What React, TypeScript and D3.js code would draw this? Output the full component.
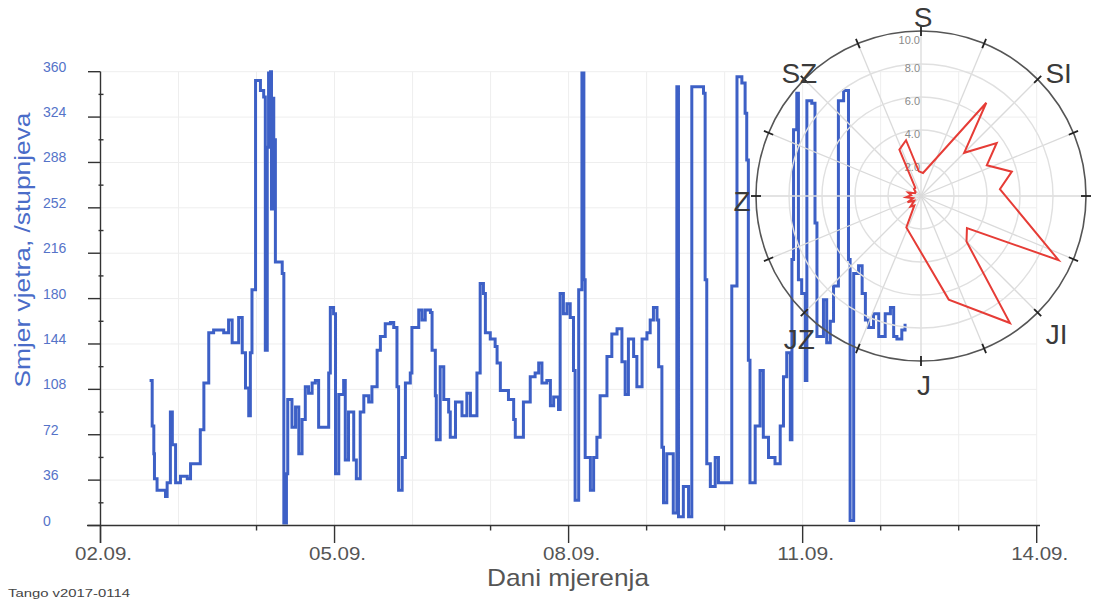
import React from "react";
import * as d3 from "d3";

// ---- data ----
// hours since 02.09. 00:00
const hours = [15.1,15.9,16.4,16.6,17.4,20.0,20.5,21.5,22.1,23.1,
24.6,26.7,27.7,29.7,30.7,31.8,33.3,34.8,37.9,39.4,
40.5,42.5,43.6,44.6,45.6,46.1,46.6,47.7,49.2,50.2,
50.7,51.3,51.7,52.3,52.6,52.9,53.3,53.8,55.9,56.4,
57.2,57.6,58.9,60.0,61.0,62.0,63.0,64.0,65.1,66.1,
67.1,69.2,70.2,70.7,71.7,72.3,73.3,74.8,75.3,76.3,
76.9,77.9,78.7,79.9,81.0,82.5,83.5,85.1,86.1,87.6,
89.2,90.2,91.2,91.7,92.8,93.8,95.3,95.8,97.9,98.9,
99.9,101.5,102.0,103.0,103.3,104.5,105.6,107.1,107.6,109.2,
111.2,112.7,113.8,114.8,115.8,116.8,117.8,118.4,119.9,121.4,
122.0,123.0,125.5,127.1,127.6,129.1,130.1,132.2,133.7,134.8,
135.8,137.3,138.4,139.4,140.9,141.4,142.4,143.5,144.5,145.5,
146.0,147.1,148.1,148.7,149.1,150.7,151.7,152.7,153.7,155.8,
157.3,158.9,160.4,161.4,162.4,164.0,165.0,166.6,168.1,169.1,
170.1,171.2,171.7,172.7,173.2,174.2,175.2,176.2,177.3,177.8,
179.3,180.9,181.9,184.5,185.5,186.0,186.5,187.6,189.1,190.1,
193.7,194.2,195.8,197.3,198.3,198.8,199.3,199.8,201.4,202.9,
203.9,205.5,207.5,209.1,210.1,211.1,212.2,212.7,213.2,214.2,
214.7,215.7,216.8,217.3,218.8,219.8,220.4,222.4,223.4,224.5,
225.5,227.0,228.6,229.6,230.1,230.6,231.7,233.2,234.3,235.3,
236.3,237.8,239.4,241.4,243.0,244.0,245.0,246.5,247.5];

// wind direction, degrees
const direction = [115,79,57,37,28,23,34,90,64,34,
39,37,49,49,76,113,153,155,153,163,
145,165,137,109,87,137,187,353,345,340,
139,300,359,360,251,339,306,209,200,2,
41,100,78,94,57,84,110,105,113,115,
78,78,121,173,168,41,104,115,52,90,
90,52,37,90,103,98,110,139,150,160,
161,157,110,28,54,113,121,157,171,163,
171,169,139,103,68,126,100,90,70,98,
87,105,87,87,121,192,184,153,148,142,
129,107,100,84,70,70,98,118,121,129,
113,115,95,102,92,184,168,176,165,123,
20,187,359,195,54,28,54,70,103,134,
152,156,130,104,148,134,110,148,153,163,
173,163,126,62,18,57,57,10,348,7,
31,7,348,348,343,195,49,31,54,34,
34,190,356,351,327,290,131,34,79,123,
70,54,49,79,118,137,68,211,314,343,
195,184,115,337,335,240,150,179,145,162,
190,337,345,345,211,4,200,206,184,163,
157,168,150,168,173,150,148,155,160];

const yTicks = [0, 36, 72, 108, 144, 180, 216, 252, 288, 324, 360];
const xMajorDays = [0, 3, 6, 9, 12];
const xMajorLabels = ["02.09.", "05.09.", "08.09.", "11.09.", "14.09."];
const xMinorDays = [2, 5, 7, 8, 10, 11];

// wind rose: direction (deg) and frequency (%)
const roseDir = [5, 35, 45, 55, 65, 75, 85, 115, 125, 135, 145, 165, 205, 215, 225, 235, 245, 255, 265, 275, 285, 295, 305, 315, 325, 335, 345, 355];
const roseFreq = [1.4, 6.9, 3.7, 5.6, 4.4, 5.7, 4.8, 9.2, 3.4, 3.9, 9.4, 6.5, 2.1, 0.7, 0.9, 0.5, 0.9, 0.5, 0.9, 0.6, 0.8, 0.4, 0.4, 0.6, 0.6, 3.1, 3.5, 1.5];
const roseRings = [2, 4, 6, 8, 10];
const roseRingLabels = ["2.0", "4.0", "6.0", "8.0", "10.0"];
const compassLabels = ["S", "SI", "JI", "J", "JZ", "Z", "SZ"];
const compassAngles = [0, 45, 135, 180, 225, 270, 315];

export default function App() {
  const W = 1093, H = 603;
  const x = d3.scaleLinear().domain([0, 288]).range([100.5, 1036.7]);
  const y = d3.scaleLinear().domain([0, 360]).range([525.5, 71.7]);
  const data = hours.map((h, i) => [h, direction[i]] as [number, number]);
  const line = d3.line<[number, number]>().x(d => x(d[0])).y(d => y(d[1])).curve(d3.curveStepAfter);

  const cx = 921, cy = 196, R = 165;
  const r = d3.scaleLinear().domain([0, 10]).range([0, R]);
  const rose = roseDir.map((a, i) => ({ a, f: roseFreq[i] }));
  const radial = d3.lineRadial<{ a: number; f: number }>()
    .angle(d => (d.a * Math.PI) / 180)
    .radius(d => r(d.f))
    .curve(d3.curveLinearClosed);
  const spokes = d3.range(0, 360, 22.5);
  const labelOffsets: Record<string, [number, number]> = {
    S: [2, -14], SI: [21, -6], JI: [19, 22], J: [3, 24], JZ: [-5, 27], Z: [-14, 5], SZ: [-5, -6],
  };
  const days = d3.range(1, 13);
  const blue = "#3d60c6";

  return (
    <svg width={W} height={H} style={{ position: "absolute", left: 0, top: 0, background: "#fff" }}
      fontFamily="'Liberation Sans', Arial, sans-serif">
      <rect x={0} y={0} width={W} height={H} fill="#fff" />
      {/* grid */}
      <g stroke="#eeeeee" strokeWidth={1}>
        {yTicks.slice(1).map(t => (
          <line key={"gy" + t} x1={x(0)} x2={x(288)} y1={y(t)} y2={y(t)} />
        ))}
        {days.map(d => (
          <line key={"gx" + d} x1={x(d * 24)} x2={x(d * 24)} y1={y(0)} y2={y(360)} />
        ))}
      </g>

      {/* series */}
      <path d={line(data) || ""} fill="none" stroke={blue} strokeWidth={3} strokeLinejoin="miter" />

      {/* axes */}
      <g stroke="#333" strokeWidth={1.4}>
        <line x1={x(0)} x2={x(0)} y1={y(360)} y2={543} />
        {yTicks.map(t => (
          <line key={"yt" + t} x1={88} x2={x(0)} y1={y(t)} y2={y(t)} />
        ))}
        {yTicks.slice(1).map(t => (
          <line key={"ym" + t} x1={x(0) - 2} x2={x(0) + 3} y1={y(t - 18)} y2={y(t - 18)} />
        ))}
        <line x1={87} x2={1040} y1={y(0)} y2={y(0)} />
        {xMajorDays.map(d => (
          <line key={"xt" + d} x1={x(d * 24)} x2={x(d * 24)} y1={y(0)} y2={543} />
        ))}
        {xMinorDays.map(d => (
          <line key={"xm" + d} x1={x(d * 24)} x2={x(d * 24)} y1={y(0)} y2={y(0) + 5} />
        ))}
      </g>
      {yTicks.map(t => (
        <text key={"yl" + t} x={43} y={y(t) - 5} fontSize={14} fill="#5573c8" dominantBaseline="central">
          {t}
        </text>
      ))}
      {xMajorDays.map((d, i) => (
        <text key={"xl" + d} x={x(d * 24) + 3} y={560} fontSize={19} fill="#555" textAnchor="middle"
          textLength={57} lengthAdjust="spacingAndGlyphs">
          {xMajorLabels[i]}
        </text>
      ))}
      <text x={568} y={586} fontSize={24} fill="#555" textAnchor="middle" textLength={162} lengthAdjust="spacingAndGlyphs">
        Dani mjerenja
      </text>
      <text transform="translate(30,250) rotate(-90)" fontSize={22} fill="#4a6cc8" textAnchor="middle"
        textLength={275} lengthAdjust="spacingAndGlyphs">
        Smjer vjetra, /stupnjeva
      </text>
      <text x={8} y={597} fontSize={10.5} fill="#444" textLength={122} lengthAdjust="spacingAndGlyphs">
        Tango v2017-0114
      </text>

      {/* wind rose inset */}
      <g>
        {spokes.map(a => {
          const t = (a * Math.PI) / 180;
          return (
            <line key={"sp" + a} x1={cx} y1={cy} x2={cx + R * Math.sin(t)} y2={cy - R * Math.cos(t)}
              stroke="#dadada" strokeWidth={1.3} />
          );
        })}
        {roseRings.slice(0, 4).map(v => (
          <circle key={"rg" + v} cx={cx} cy={cy} r={r(v)} fill="none" stroke="#e0e0e0" strokeWidth={1.4} />
        ))}
        {roseRings.map((v, i) => (
          <text key={"rl" + v} x={cx - 1} y={cy - r(v) + (v === 10 ? 9 : 4)} fontSize={11} fill="#8a8a8a"
            textAnchor="end" dominantBaseline="central">
            {roseRingLabels[i]}
          </text>
        ))}
        <path d={radial(rose) || ""} transform={`translate(${cx},${cy})`} fill="none" stroke="#e63c36" strokeWidth={2} strokeLinejoin="miter" />
        <circle cx={cx} cy={cy} r={R} fill="none" stroke="#555" strokeWidth={1.6} />
        {spokes.map(a => {
          const t = (a * Math.PI) / 180;
          return (
            <line key={"tk" + a} x1={cx + (R - 5) * Math.sin(t)} y1={cy - (R - 5) * Math.cos(t)}
              x2={cx + (R + 5) * Math.sin(t)} y2={cy - (R + 5) * Math.cos(t)} stroke="#222" strokeWidth={1.8} />
          );
        })}
        {compassLabels.map((lab, i) => {
          const t = (compassAngles[i] * Math.PI) / 180;
          const off = labelOffsets[lab];
          return (
            <text key={"cl" + lab} x={cx + R * Math.sin(t) + off[0]} y={cy - R * Math.cos(t) + off[1]}
              fontSize={28} fill="#3a3a3a" textAnchor="middle" dominantBaseline="central">
              {lab}
            </text>
          );
        })}
      </g>
    </svg>
  );
}
